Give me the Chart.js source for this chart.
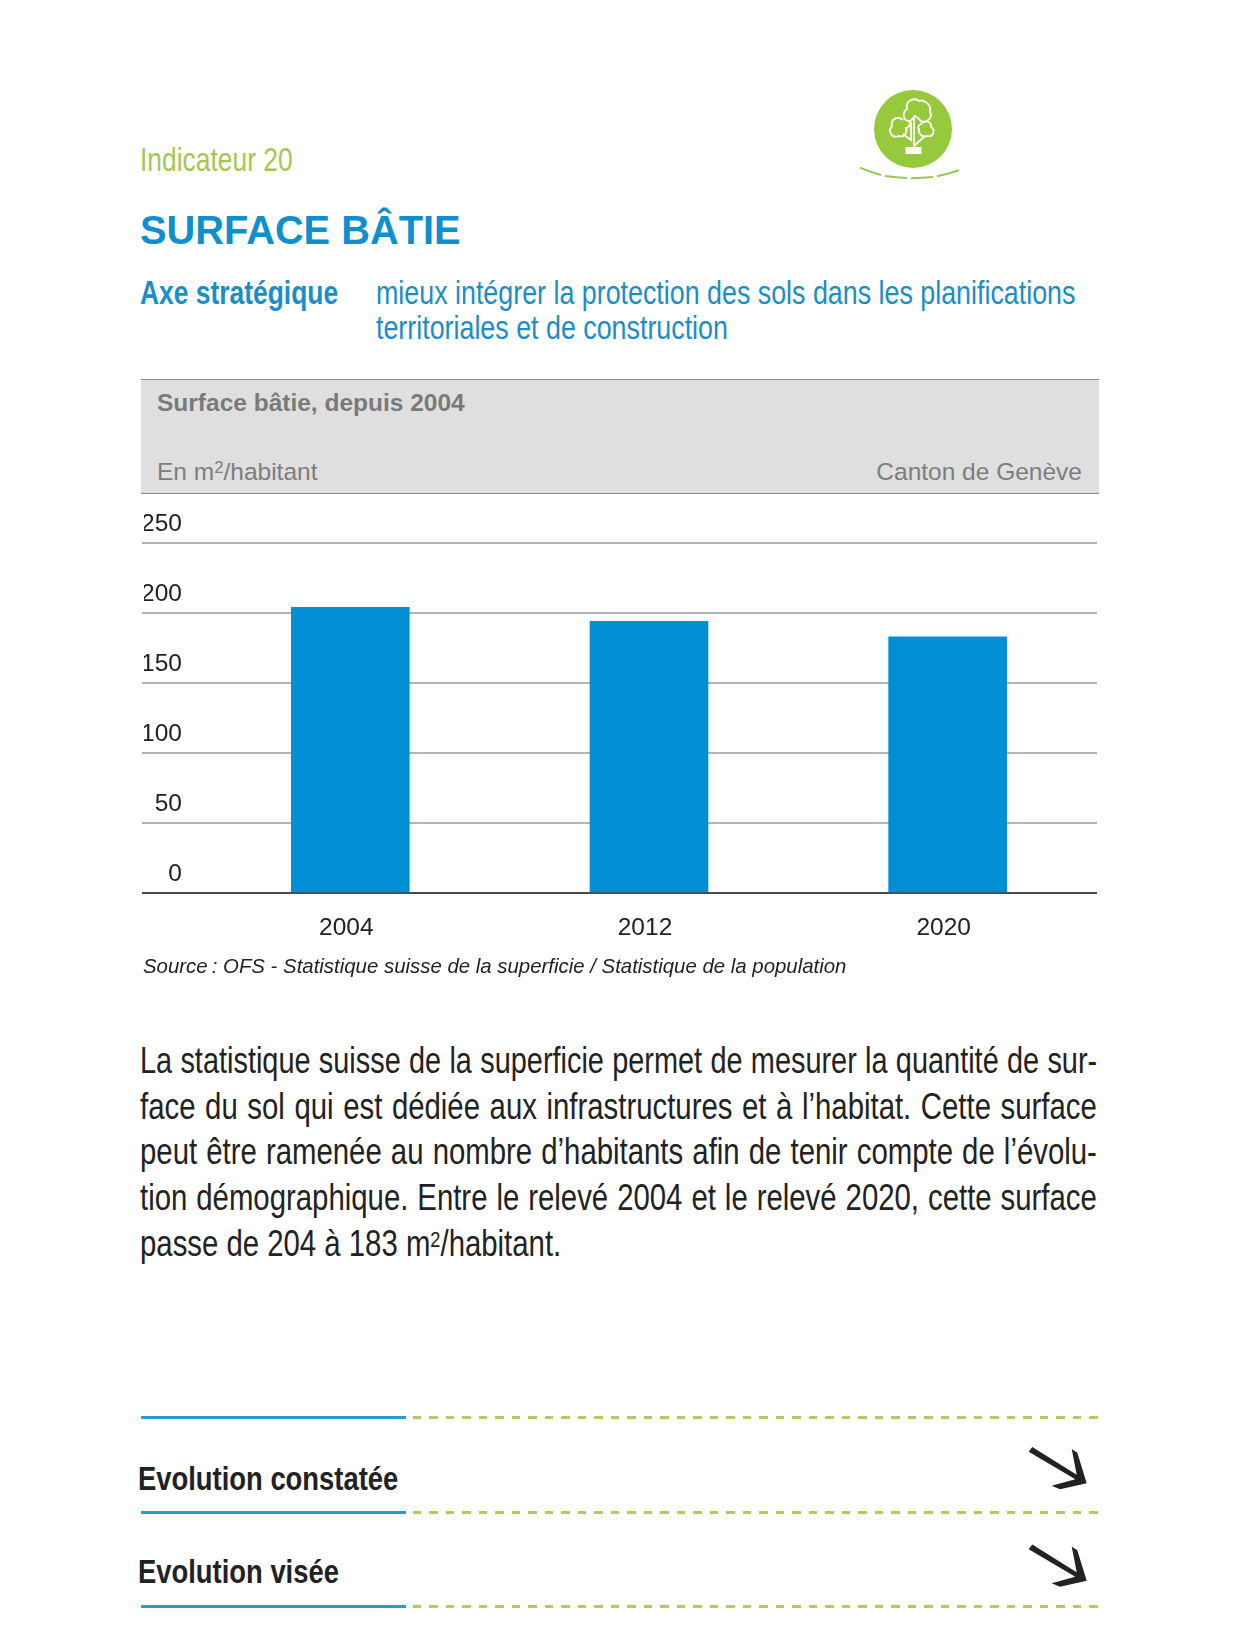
<!DOCTYPE html>
<html lang="fr">
<head>
<meta charset="utf-8">
<title>Surface bâtie</title>
<script src="https://cdn.jsdelivr.net/npm/chart.js@4/dist/chart.umd.min.js"></script>
<style>
  html, body { margin: 0; padding: 0; background: #fff; }
  body { position: relative; width: 1236px; height: 1634px; overflow: hidden; font-family: "Liberation Sans", Arial, sans-serif; }
  .t { position: absolute; white-space: nowrap; line-height: 1; }
  /* no condensed face installed, so squeeze the regular one */
  .narrow { transform-origin: left top; transform: scaleX(var(--sx)); }
  #panel { position: absolute; left: 141px; top: 379px; width: 958px; height: 115px; background: #dfdfdf; border-top: 1px solid #8c8c8c; border-bottom: 1px solid #8c8c8c; box-sizing: border-box; }
  #chartBox { position: absolute; left: 130px; top: 500px; width: 990px; height: 460px; }
  .body-line { position: absolute; left: 140px; width: 1174px; font-size: 36px; line-height: 46px; color: #222; text-align: justify; text-align-last: justify; --sx: 0.815; white-space: nowrap; }
  .rule { position: absolute; left: 141px; width: 265px; height: 2.5px; background: #2a9bcf; }
  .dash { position: absolute; left: 413px; width: 686px; height: 2.5px; background: repeating-linear-gradient(to right, #b0cc5e 0 8.5px, transparent 8.5px 16.5px); }
  sup { font-size: 62%; line-height: 0; vertical-align: 0.42em; }
</style>
</head>
<body>
<svg style="position:absolute;left:850px;top:80px" width="130" height="110" viewBox="850 80 130 110">
  <circle cx="913" cy="129" r="39" fill="#97c93d"/>
  <g fill="none" stroke="#fff" stroke-width="1.8">
    <path d="M910 121C904 122 901 113 907 109C905 101 914 97 919 101C924 99 932 105 930 112C933 117 927 124 921 121C919 119 917 117 915 116C913 118 912 120 910 121Z"/>
    <path d="M903 120C897 115 890 120 892 126C887 131 892 139 899 136C904 138 908 132 906 128C909 128 910 124 910 122"/>
    <path d="M921 124C925 119 932 122 931 127C936 130 933 138 927 136C922 138 918 133 919 129C917 127 919 125 921 124Z"/>
    <path d="M914 118V147M911 122V140M903 134L912 141M925 136L914 146"/>
  </g>
  <rect x="905.5" y="147" width="16" height="7" fill="#fff"/>
  <g fill="none" stroke="#9cc656" stroke-width="2">
    <path d="M860 167.7Q870 172 881 175M885 176Q896 177.5 907 178M911 178.3Q922 178 933 177M937 176.3Q948 174 959 170.3"/>
  </g>
</svg>

<div class="t narrow" style="--sx:.8;left:140px;top:143px;font-size:33px;color:#a5c752">Indicateur 20</div>
<div class="t" style="left:140px;top:211px;font-size:39.8px;font-weight:700;color:#0f8fcd">SURFACE BÂTIE</div>
<div class="t narrow" style="--sx:.8;left:140px;top:276px;font-size:33px;font-weight:700;color:#1b8dc8">Axe stratégique</div>
<div class="t narrow" style="--sx:.813;left:376px;top:276px;font-size:33px;color:#1b8dc8">mieux intégrer la protection des sols dans les planifications</div>
<div class="t narrow" style="--sx:.813;left:376px;top:311px;font-size:33px;color:#1b8dc8">territoriales et de construction</div>

<div id="panel"></div>
<div class="t" style="left:157px;top:391px;font-size:24.5px;font-weight:700;color:#7a7a7a">Surface bâtie, depuis 2004</div>
<div class="t" style="left:157px;top:460px;font-size:24.5px;color:#7d7d7d">En m<sup style="font-size:68%">2</sup>/habitant</div>
<div class="t" style="right:154px;top:460px;font-size:24.5px;color:#7d7d7d">Canton de Genève</div>

<div id="chartBox"><canvas id="chart" width="990" height="460"></canvas></div>

<div class="t" style="left:143px;top:956px;font-size:20.4px;font-style:italic;color:#222">Source&#8239;: OFS - Statistique suisse de la superficie / Statistique de la population</div>

<div class="body-line narrow" style="top:1038px;--sx:.803;width:1192px">La statistique suisse de la superficie permet de mesurer la quantité de sur-</div>
<div class="body-line narrow" style="top:1084px">face du sol qui est dédiée aux infrastructures et à l’habitat. Cette surface</div>
<div class="body-line narrow" style="top:1129px">peut être ramenée au nombre d’habitants afin de tenir compte de l’évolu-</div>
<div class="body-line narrow" style="top:1175px">tion démographique. Entre le relevé 2004 et le relevé 2020, cette surface</div>
<div class="body-line narrow" style="top:1221px;text-align-last:left">passe de 204 à 183 m<sup>2</sup>/habitant.</div>

<div class="rule" style="top:1416px"></div><div class="dash" style="top:1416px"></div>
<div class="rule" style="top:1511px"></div><div class="dash" style="top:1511px"></div>
<div class="rule" style="top:1605px"></div><div class="dash" style="top:1605px"></div>

<div class="t narrow" style="--sx:.83;left:138px;top:1462px;font-size:33px;font-weight:700;color:#222">Evolution constatée</div>
<div class="t narrow" style="--sx:.83;left:138px;top:1555px;font-size:33px;font-weight:700;color:#222">Evolution visée</div>

<svg style="position:absolute;left:1020px;top:1440px" width="80" height="170" viewBox="1020 1440 80 170">
  <path id="arrow" d="M1032.3 1447L1076.7 1474.7L1071.7 1449L1077.3 1452.7L1086.7 1483.3L1060 1489.3L1051.7 1485.7L1075.3 1479.3L1028.7 1451.7Z" fill="#222"/>
  <use href="#arrow" y="97.5"/>
</svg>

<script>
const categories = ["2004", "2012", "2020"];
const surfaceValues = [204, 194, 183];
const yTickValues = [0, 50, 100, 150, 200, 250];

const blue = "#008fd5";
const gridGrey = "#b4b4b4";
const baseDark = "#4a4a4a";

new Chart(document.getElementById("chart"), {
  type: "bar",
  data: {
    labels: categories,
    datasets: [{ data: surfaceValues, backgroundColor: blue, barThickness: 118 }],
  },
  options: {
    responsive: false,
    animation: false,
    layout: { padding: { left: 14, right: 23, top: 43, bottom: 0 } },
    plugins: { legend: { display: false }, tooltip: { enabled: false } },
    scales: {
      x: {
        afterFit: (scale) => { scale.height = 67; },
        grid: { display: false },
        border: { display: false },
        ticks: { color: "#222", font: { size: 24.5, family: "Liberation Sans" }, padding: 13, maxRotation: 0, labelOffset: -4 },
      },
      y: {
        min: 0,
        max: 250,
        afterBuildTicks: (scale) => { scale.ticks = yTickValues.map((v) => ({ value: v })); },
        afterFit: (scale) => { scale.width = 57; },
        border: { display: false },
        grid: {
          lineWidth: 2,
          tickLength: 59,
          color: (c) => (c.tick.value === 0 ? baseDark : gridGrey),
          tickColor: (c) => (c.tick.value === 0 ? baseDark : gridGrey),
        },
        ticks: {
          color: "#222",
          autoSkip: false,
          // 2 lines with a wide line height puts the label above its grid line
          callback: (v) => [String(v), ""],
          font: { size: 24.5, family: "Liberation Sans", lineHeight: "37px" },
          padding: -40,
          crossAlign: "near",
        },
      },
    },
  },
});
</script>
</body>
</html>
